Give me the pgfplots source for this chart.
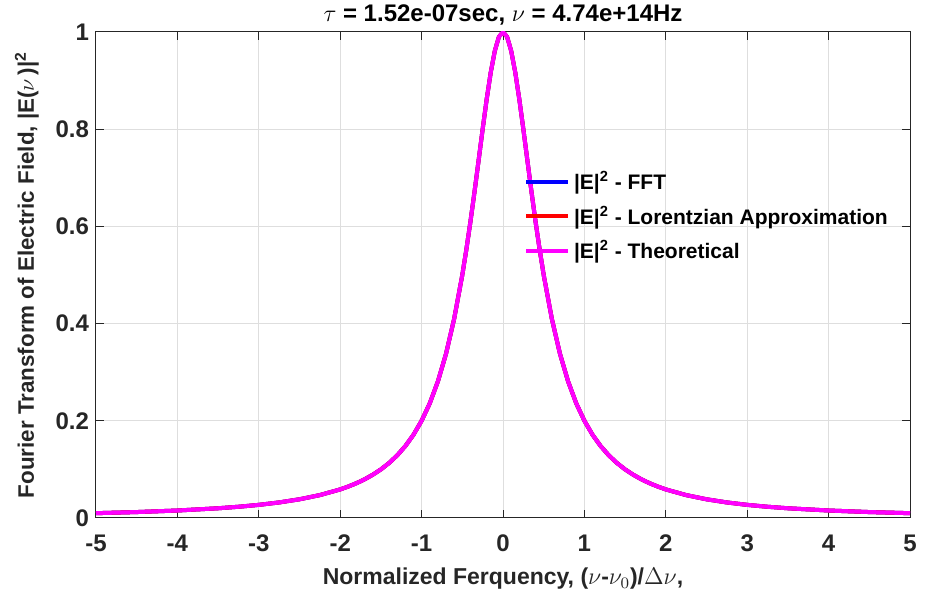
\documentclass[border=0pt]{standalone}
\usepackage{pgfplots}
\pgfplotsset{compat=1.18}
\usepackage{pgfplotstable}
\usepackage{fontspec}
\setmainfont{Liberation Sans}
\usetikzlibrary{calc}
\definecolor{axgray}{RGB}{38,38,38}
\definecolor{gridgray}{RGB}{222,222,222}
\definecolor{mag}{RGB}{255,0,255}

% |E|^2 curves (FFT, Lorentzian fit, theory)
\pgfplotstableread{
x     fft     lor     theo
-5    0.0099  0.0099  0.0099
-4.5  0.0122  0.0122  0.0122
-4    0.0154  0.0154  0.0154
-3.5  0.0200  0.0200  0.0200
-3.25 0.0231  0.0231  0.0231
-3    0.0270  0.0270  0.0270
-2.75 0.0320  0.0320  0.0320
-2.5  0.0385  0.0385  0.0385
-2.25 0.0471  0.0471  0.0471
-2    0.0588  0.0588  0.0588
-1.9  0.0648  0.0648  0.0648
-1.8  0.0716  0.0716  0.0716
-1.7  0.0796  0.0796  0.0796
-1.6  0.0890  0.0890  0.0890
-1.5  0.1000  0.1000  0.1000
-1.4  0.1131  0.1131  0.1131
-1.3  0.1289  0.1289  0.1289
-1.2  0.1479  0.1479  0.1479
-1.1  0.1712  0.1712  0.1712
-1.0  0.2000  0.2000  0.2000
-0.9  0.2358  0.2358  0.2358
-0.8  0.2809  0.2809  0.2809
-0.7  0.3378  0.3378  0.3378
-0.6  0.4098  0.4098  0.4098
-0.5  0.5000  0.5000  0.5000
-0.45 0.5525  0.5525  0.5525
-0.4  0.6098  0.6098  0.6098
-0.35 0.6711  0.6711  0.6711
-0.3  0.7353  0.7353  0.7353
-0.25 0.8000  0.8000  0.8000
-0.2  0.8621  0.8621  0.8621
-0.15 0.9174  0.9174  0.9174
-0.1  0.9615  0.9615  0.9615
-0.05 0.9901  0.9901  0.9901
0     1.0000  1.0000  1.0000
0.05  0.9901  0.9901  0.9901
0.1   0.9615  0.9615  0.9615
0.15  0.9174  0.9174  0.9174
0.2   0.8621  0.8621  0.8621
0.25  0.8000  0.8000  0.8000
0.3   0.7353  0.7353  0.7353
0.35  0.6711  0.6711  0.6711
0.4   0.6098  0.6098  0.6098
0.45  0.5525  0.5525  0.5525
0.5   0.5000  0.5000  0.5000
0.6   0.4098  0.4098  0.4098
0.7   0.3378  0.3378  0.3378
0.8   0.2809  0.2809  0.2809
0.9   0.2358  0.2358  0.2358
1.0   0.2000  0.2000  0.2000
1.1   0.1712  0.1712  0.1712
1.2   0.1479  0.1479  0.1479
1.3   0.1289  0.1289  0.1289
1.4   0.1131  0.1131  0.1131
1.5   0.1000  0.1000  0.1000
1.6   0.0890  0.0890  0.0890
1.7   0.0796  0.0796  0.0796
1.8   0.0716  0.0716  0.0716
1.9   0.0648  0.0648  0.0648
2     0.0588  0.0588  0.0588
2.25  0.0471  0.0471  0.0471
2.5   0.0385  0.0385  0.0385
2.75  0.0320  0.0320  0.0320
3     0.0270  0.0270  0.0270
3.25  0.0231  0.0231  0.0231
3.5   0.0200  0.0200  0.0200
4     0.0154  0.0154  0.0154
4.5   0.0122  0.0122  0.0122
5     0.0099  0.0099  0.0099
}\spec

\begin{document}
\begin{tikzpicture}
\begin{axis}[
    scale only axis,
    width=407pt, height=243pt,
    xmin=-5, xmax=5, ymin=0, ymax=1,
    xtick={-5,...,5},
    ytick={0,0.2,0.4,0.6,0.8,1},
    yticklabels={0,0.2,0.4,0.6,0.8,1},
    /pgf/number format/assume math mode=true,
    tick label style={font=\fontsize{12}{14}\selectfont\bfseries, text=axgray},
    xticklabel style={yshift=-5pt},
    tick align=inside,
    major tick length=4pt,
    axis line style={axgray, line width=0.5pt},
    tick style={axgray, line width=0.5pt},
    grid=major,
    major grid style={gridgray, line width=0.5pt},
    title={$\tau$ = 1.52e-07sec, $\nu$ = 4.74e+14Hz},
    title style={font=\fontsize{12}{14}\selectfont\bfseries, yshift=-6pt},
    xlabel={Normalized Ferquency, ($\nu$-$\nu_0$)/$\Delta\nu$,},
    ylabel={Fourier Transform of Electric Field, |E($\nu$\,)|\textsuperscript{2}},
    xlabel style={font=\fontsize{11.5}{13}\selectfont\bfseries, text=axgray, yshift=-1pt},
    ylabel style={font=\fontsize{11.2}{13}\selectfont\bfseries, text=axgray, yshift=1.5pt},
    legend style={at={(axis cs:0.18,0.73)}, anchor=north west, draw=none, fill=none,
        font=\fontsize{10.5}{12}\selectfont\bfseries, row sep=2.5pt},
    legend cell align=left,
    legend image code/.code={\draw[#1, line width=2pt] (0pt,0pt) -- (21pt,0pt);},
]
  \addplot[blue, line width=2pt] table[x=x, y=fft] {\spec};
  \addlegendentry{|E|\textsuperscript{2} - FFT}
  \addplot[red, line width=2pt] table[x=x, y=lor] {\spec};
  \addlegendentry{|E|\textsuperscript{2} - Lorentzian Approximation}
  \addplot[mag, line width=2pt] table[x=x, y=theo] {\spec};
  \addlegendentry{|E|\textsuperscript{2} - Theoretical}
  \coordinate (bl) at (rel axis cs:0,0);
  \coordinate (tr) at (rel axis cs:1,1);
\end{axis}
\pgfresetboundingbox
\path ($(bl)+(-48pt,-37pt)$) rectangle ($(tr)+(11pt,16pt)$);
\end{tikzpicture}
\end{document}
